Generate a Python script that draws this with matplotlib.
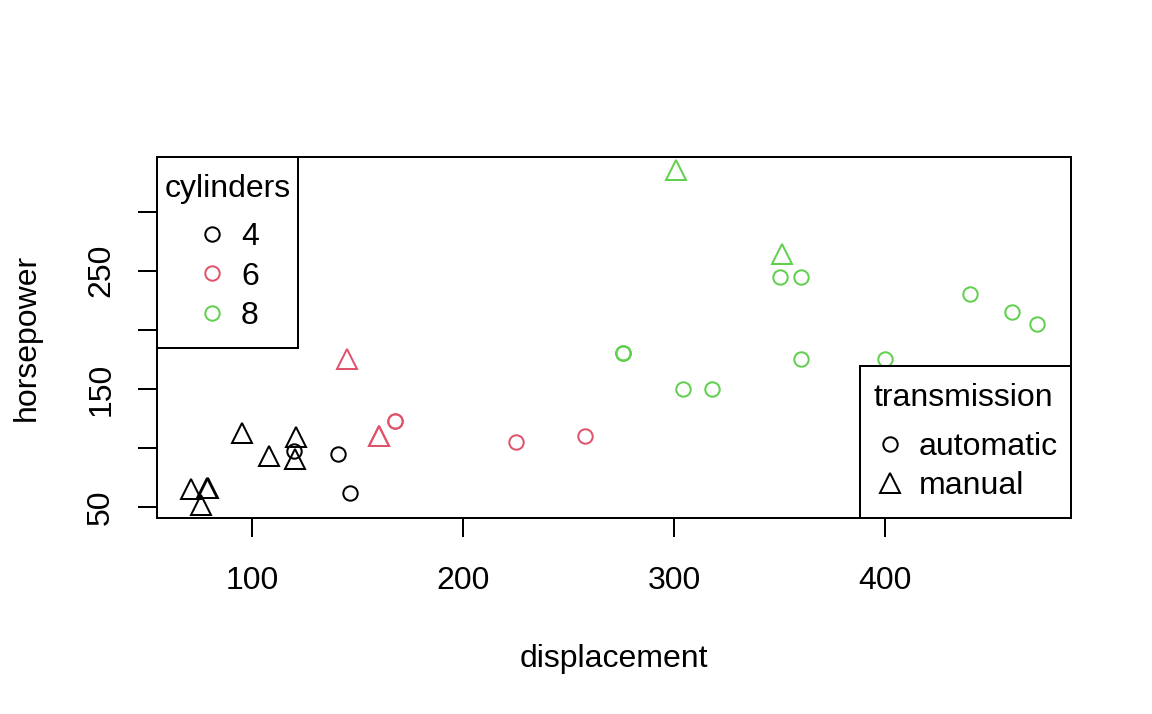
import numpy as np
import matplotlib
matplotlib.use("Agg")
import matplotlib.pyplot as plt
from matplotlib.lines import Line2D
from matplotlib.offsetbox import DrawingArea, VPacker

plt.rcParams['font.family'] = ['Liberation Sans', 'DejaVu Sans']
plt.rcParams['font.size'] = 12

# mtcars: displacement, horsepower, cylinders, transmission (0 automatic, 1 manual)
disp = [160, 160, 108, 258, 360, 225, 360, 146.7, 140.8, 167.6, 167.6, 275.8,
        275.8, 275.8, 472, 460, 440, 78.7, 75.7, 71.1, 120.1, 318, 304, 350,
        400, 79, 120.3, 95.1, 351, 145, 301, 121]
hp = [110, 110, 93, 110, 175, 105, 245, 62, 95, 123, 123, 180, 180, 180, 205,
      215, 230, 66, 52, 65, 97, 150, 150, 245, 175, 66, 91, 113, 264, 175, 335, 109]
cyl = [6, 6, 4, 6, 8, 6, 8, 4, 4, 6, 6, 8, 8, 8, 8, 8, 8, 4, 4, 4, 4, 8, 8, 8,
       8, 4, 4, 4, 8, 6, 8, 4]
am = [1, 1, 1, 0, 0, 0, 0, 0, 0, 0, 0, 0, 0, 0, 0, 0, 0, 1, 1, 1, 0, 0, 0, 0,
      0, 1, 1, 1, 1, 1, 1, 1]

cyl_levels = [4, 6, 8]
cyl_colors = {4: '#000000', 6: '#DF536B', 8: '#61D04F'}
am_labels = ['automatic', 'manual']
am_markers = {0: 'o', 1: '^'}
am_sizes = {0: 5.4, 1: 7.2}

disp = np.array(disp)
hp = np.array(hp)
cyl = np.array(cyl)
am = np.array(am)


def pad_legend(leg, xpad, ypad, sep):
    # separate horizontal / vertical padding inside the legend frame (points)
    box = leg._legend_box
    title_box, handle_box = box.get_children()
    extra = ypad - xpad
    top = VPacker(pad=0, sep=0, align=box.align,
                  children=[DrawingArea(0, extra), title_box])
    bot = VPacker(pad=0, sep=0, align=box.align,
                  children=[handle_box, DrawingArea(0, extra)])
    box._children = [top, bot]
    box.pad = xpad
    box.sep = sep


fig = plt.figure(figsize=(6, 714 / 192), dpi=192)
ax = fig.add_axes([157 / 1152, 1 - 518 / 714, (1071 - 157) / 1152, (518 - 157) / 714])

for c in cyl_levels:
    for a in [0, 1]:
        m = (cyl == c) & (am == a)
        ax.plot(disp[m], hp[m], linestyle='none', marker=am_markers[a],
                markersize=am_sizes[a], markerfacecolor='none',
                markeredgecolor=cyl_colors[c], markeredgewidth=0.75)

# R style 4% axis extension
xr = disp.max() - disp.min()
yr = hp.max() - hp.min()
ax.set_xlim(disp.min() - 0.04 * xr, disp.max() + 0.04 * xr)
ax.set_ylim(hp.min() - 0.04 * yr, hp.max() + 0.04 * yr)

xt = [100, 200, 300, 400]
ax.set_xticks(xt)
ax.set_xticklabels([str(v) for v in xt])
yt = [50, 100, 150, 200, 250, 300]
ax.set_yticks(yt)
ax.set_yticklabels(['50', '', '150', '', '250', ''])
ax.tick_params(axis='both', length=7.2, width=0.75, direction='out', labelsize=12)
ax.tick_params(axis='x', pad=10.9)
ax.tick_params(axis='y', pad=8.1)
for lab in ax.get_yticklabels():
    lab.set_rotation(90)
    lab.set_va('center')
for s in ax.spines.values():
    s.set_linewidth(0.75)

ax.set_xlabel('displacement', fontsize=12, labelpad=17.9)
ax.set_ylabel('horsepower', fontsize=12, labelpad=16.6)

leg_kw = dict(borderaxespad=0, fancybox=False, edgecolor='black', framealpha=1,
              handlelength=1.0, handletextpad=0.4, labelspacing=0.29,
              borderpad=0.53, title_fontsize=12, fontsize=12)

h1 = [Line2D([], [], linestyle='none', marker='o', markersize=5.4,
             markerfacecolor='none', markeredgecolor=cyl_colors[c],
             markeredgewidth=0.75) for c in cyl_levels]
leg1 = ax.legend(h1, [str(c) for c in cyl_levels], title='cylinders',
                 loc='upper left', alignment='center', **leg_kw)
leg1.get_frame().set_linewidth(0.75)
pad_legend(leg1, 2.8, 6.36, 6.9)
ax.add_artist(leg1)

h2 = [Line2D([], [], linestyle='none', marker=am_markers[a], markersize=am_sizes[a],
             markerfacecolor='none', markeredgecolor='black',
             markeredgewidth=0.75) for a in [0, 1]]
leg2 = ax.legend(h2, am_labels, title='transmission', loc='lower right',
                 alignment='left', **leg_kw)
leg2.get_frame().set_linewidth(0.75)
pad_legend(leg2, 5.05, 6.36, 6.9)

fig.savefig('out.png', dpi=192)
